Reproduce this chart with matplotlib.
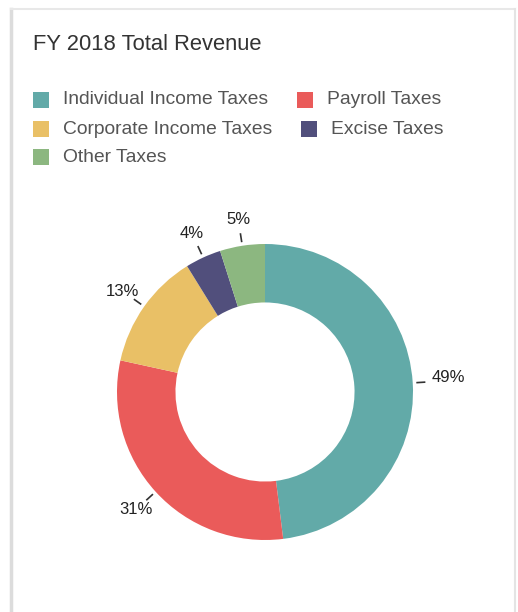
import numpy as np
import matplotlib
matplotlib.use("Agg")
import matplotlib.pyplot as plt
from matplotlib.patches import Rectangle
from matplotlib.lines import Line2D

plt.rcParams['font.family'] = ['Liberation Sans', 'DejaVu Sans']

# FY 2018 revenue shares (percent)
categories = ["Individual Income Taxes", "Payroll Taxes", "Corporate Income Taxes",
              "Excise Taxes", "Other Taxes"]
shares = [49, 31, 13, 4, 5]
colors = ["#62AAA8", "#EA5B5A", "#E9C066", "#514F7C", "#8CB780"]

W, H = 518, 612
fig = plt.figure(figsize=(W / 100, H / 100), dpi=100)
fig.patch.set_facecolor("white")


def px(x, y):
    """pixel coords (origin top-left) -> figure fraction"""
    return x / W, 1 - y / H


# card outline
for (x0, y0, x1, y1, c, lw) in [(11, 9, 11, 612, "#dcdcdc", 2.5),
                                (11, 9, 515, 9, "#e8e8e8", 1.5),
                                (515, 9, 515, 612, "#e4e4e4", 1.5)]:
    a, b = px(x0, y0)
    c2, d = px(x1, y1)
    fig.add_artist(Line2D([a, c2], [b, d], color=c, lw=lw, transform=fig.transFigure))

# title
tx, ty = px(33, 45)
fig.text(tx, ty, "FY 2018 Total Revenue", fontsize=15.8, color="#333333",
         ha="left", va="center")

# legend, items flow left to right, two per row
renderer = fig.canvas.get_renderer()
row_y = [100, 129, 157.5]
sq = 16
for i, (name, col) in enumerate(zip(categories, colors)):
    row, pos = divmod(i, 2)
    y = row_y[row]
    if pos == 0:
        x = 33
    else:
        x = prev_end + 29
    sx, sy = px(x, y + sq / 2)
    fig.add_artist(Rectangle((sx, sy), sq / W, sq / H, facecolor=col,
                             edgecolor="none", transform=fig.transFigure))
    lx, ly = px(x + 30, y)
    t = fig.text(lx, ly, name, fontsize=13.9, color="#555555", ha="left", va="center")
    bb = t.get_window_extent(renderer)
    prev_end = bb.x1

# donut
R = 148
cx, cy = 265, 392
lim = 1.5
side = 2 * lim * R
ax = fig.add_axes([(cx - side / 2) / W, (H - cy - side / 2) / H, side / W, side / H])

wedges, _ = ax.pie(shares, colors=colors, startangle=90, counterclock=False,
                   radius=1.0, wedgeprops=dict(width=0.395, edgecolor="none"))
ax.set_xlim(-lim, lim)
ax.set_ylim(-lim, lim)
ax.set_aspect("equal")
ax.axis("off")

for w, val in zip(wedges, shares):
    mid = np.deg2rad((w.theta1 + w.theta2) / 2)
    c, s = np.cos(mid), np.sin(mid)
    ax.plot([1.03 * c, 1.08 * c], [1.03 * s, 1.08 * s], color="#333333", lw=1.2)
    if c > 0.5:
        ax.text(1.13 * c, 1.13 * s + 0.03, f"{val}%", ha="left", va="center",
                fontsize=12, color="#222222")
    else:
        ax.text(1.18 * c, 1.18 * s, f"{val}%", ha="center", va="center",
                fontsize=12, color="#222222")

fig.savefig("out.png", dpi=100, facecolor="white")
